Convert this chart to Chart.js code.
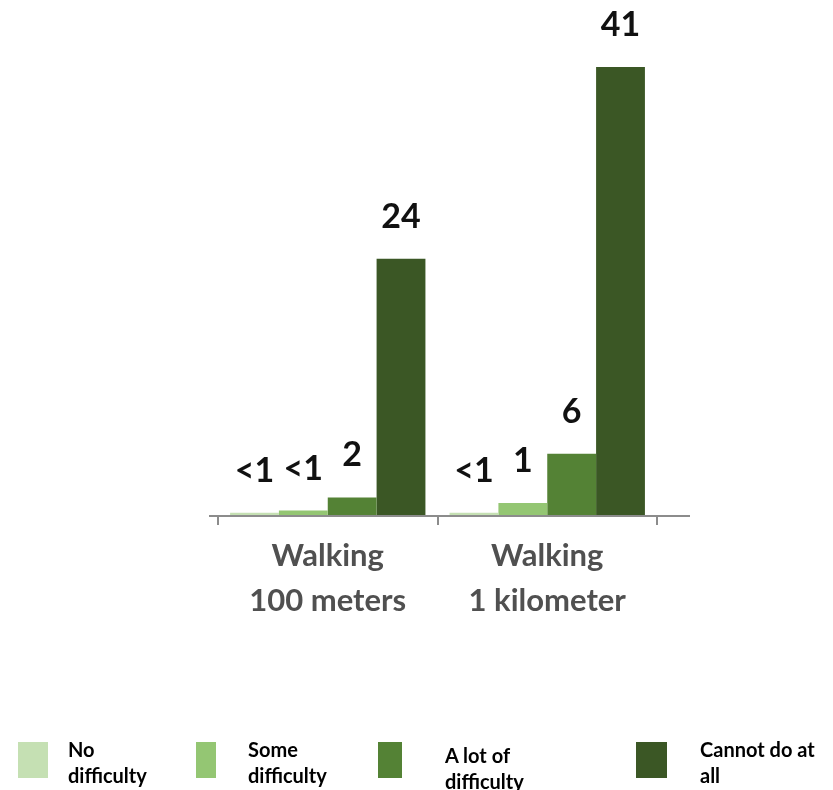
<!DOCTYPE html>
<html>
<head>
<meta charset="utf-8">
<script src="https://cdn.jsdelivr.net/npm/chart.js@4/dist/chart.umd.min.js"></script>
<style>
  html, body { margin: 0; padding: 0; background: #fff; }
  #wrap { position: relative; width: 833px; height: 790px; }
  #legend { position: absolute; left: 0; top: 738px; width: 833px; height: 50px; font-family: Lato, "Open Sans", sans-serif; font-weight: bold; font-size: 20px; color: #000; }
  .sw { position: absolute; top: 4px; height: 36px; }
  .txt { position: absolute; top: -2px; line-height: 26px; white-space: nowrap; }
</style>
</head>
<body>
<div id="wrap">
  <canvas id="chart" width="833" height="790"></canvas>
  <div id="legend"></div>
</div>
<script>
const categories = [['Walking', '100 meters'], ['Walking', '1 kilometer']];
const seriesNames = [['No', 'difficulty'], ['Some', 'difficulty'], ['A lot of', 'difficulty'], ['Cannot do at', 'all']];
const seriesColors = ['#c5e0b3', '#94c673', '#548235', '#3b5725'];
const noDifficulty   = [0.3, 0.3];
const someDifficulty = [0.5, 1.2];
const aLotDifficulty = [1.7, 5.7];
const cannotDo       = [23.5, 41];
const valueLabels = [['<1', '<1'], ['<1', '1'], ['2', '6'], ['24', '41']];

// legend placement (layout only)
const legendSwatchX = [18, 196, 378, 636];
const legendSwatchW = [30, 20, 24, 31];
const legendTextX = [68, 248, 445, 700];

const seriesValues = [noDifficulty, someDifficulty, aLotDifficulty, cannotDo];

const valueLabelPlugin = {
  id: 'valueLabels',
  afterDatasetsDraw(chart) {
    const ctx = chart.ctx;
    ctx.save();
    ctx.font = 'bold 34px Lato, "Open Sans", sans-serif';
    ctx.fillStyle = '#111';
    ctx.textAlign = 'center';
    ctx.textBaseline = 'middle';
    chart.data.datasets.forEach((ds, i) => {
      chart.getDatasetMeta(i).data.forEach((bar, j) => {
        ctx.fillText(valueLabels[i][j], bar.x, bar.y - 42);
      });
    });
    ctx.restore();
  }
};

const axisLinePlugin = {
  id: 'axisLine',
  afterDraw(chart) {
    const { ctx, chartArea } = chart;
    ctx.save();
    ctx.strokeStyle = '#8c8c8c';
    ctx.lineWidth = 2;
    ctx.beginPath();
    ctx.moveTo(chartArea.left - 9, chartArea.bottom);
    ctx.lineTo(chartArea.right + 33, chartArea.bottom);
    ctx.stroke();
    ctx.restore();
  }
};

new Chart(document.getElementById('chart'), {
  type: 'bar',
  data: {
    labels: categories,
    datasets: seriesValues.map((vals, i) => ({
      label: seriesNames[i].join(' '),
      data: vals,
      backgroundColor: seriesColors[i],
      borderWidth: 0,
      categoryPercentage: 0.89,
      barPercentage: 1.0
    }))
  },
  options: {
    responsive: false,
    animation: false,
    layout: { padding: { left: 218, right: 176, top: 67, bottom: 159 } },
    plugins: { legend: { display: false }, tooltip: { enabled: false } },
    scales: {
      x: {
        grid: { display: true, drawOnChartArea: false, offset: true, tickLength: 9, color: '#8c8c8c', lineWidth: 2 },
        border: { display: false },
        ticks: { color: '#505050', padding: 8, font: { family: 'Lato, "Open Sans", sans-serif', size: 31, weight: 'bold', lineHeight: 1.45 } }
      },
      y: { display: false, min: 0, max: 41 }
    }
  },
  plugins: [valueLabelPlugin, axisLinePlugin]
});

const legend = document.getElementById('legend');
seriesNames.forEach((name, i) => {
  const sw = document.createElement('div');
  sw.className = 'sw';
  sw.style.left = legendSwatchX[i] + 'px';
  sw.style.width = legendSwatchW[i] + 'px';
  sw.style.background = seriesColors[i];
  legend.appendChild(sw);
  const t = document.createElement('div');
  t.className = 'txt';
  t.style.left = legendTextX[i] + 'px';
  t.style.top = (i === 2 ? 4 : -2) + 'px';
  t.innerHTML = name.join('<br>');
  legend.appendChild(t);
});
</script>
</body>
</html>
